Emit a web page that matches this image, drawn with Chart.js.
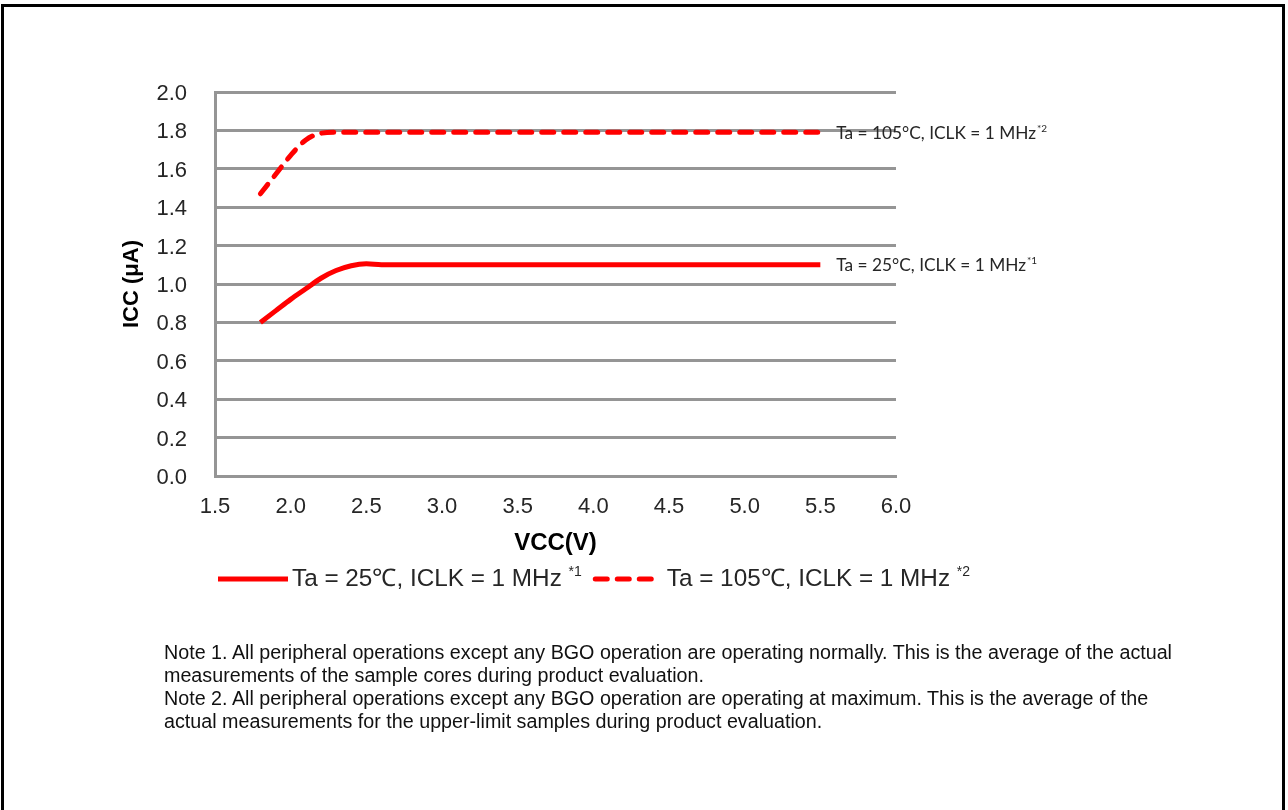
<!DOCTYPE html>
<html><head><meta charset="utf-8">
<script src="https://cdn.jsdelivr.net/npm/chart.js@4.4.0/dist/chart.umd.min.js"></script>
<style>
html,body{margin:0;padding:0;background:#fff;width:1288px;height:810px;overflow:hidden;}
#frame{position:absolute;left:1px;top:4px;width:1278px;height:900px;border:3px solid #000;border-bottom:none;}
#c{position:absolute;left:0;top:0;}
#notes{position:absolute;left:164px;top:641px;font-family:"Liberation Sans",Arial,sans-serif;font-size:20px;line-height:23px;color:#111;white-space:nowrap;transform-origin:0 0;}
</style></head><body>
<div id="frame"></div>
<canvas id="c" width="1288" height="810"></canvas>
<div id="notes"></div>
<script>
// ---- data ----
const vcc    = [1.8, 1.9, 2.0, 2.1, 2.2, 2.3, 2.4, 2.5, 2.6, 3.0, 3.5, 4.0, 4.5, 5.0, 5.5];
const icc25  = [0.80, 0.86, 0.92, 0.975, 1.03, 1.07, 1.095, 1.105, 1.10, 1.10, 1.10, 1.10, 1.10, 1.10, 1.10];
const icc105 = [1.47, 1.57, 1.67, 1.75, 1.785, 1.79, 1.79, 1.79, 1.79, 1.79, 1.79, 1.79, 1.79, 1.79, 1.79];
const seriesNames = ["Ta = 25\u2103, ICLK = 1 MHz", "Ta = 105\u2103, ICLK = 1 MHz"];
const seriesMarks = ["*1", "*2"];
const endLabels   = ["Ta = 25\u00B0C, ICLK = 1 MHz", "Ta = 105\u00B0C, ICLK = 1 MHz"];
const xTicks = [1.5, 2.0, 2.5, 3.0, 3.5, 4.0, 4.5, 5.0, 5.5, 6.0];
const yTicks = [0.0, 0.2, 0.4, 0.6, 0.8, 1.0, 1.2, 1.4, 1.6, 1.8, 2.0];
const xTitle = "VCC(V)";
const yTitle = "ICC (\u03BCA)";
const notes = [
  "Note 1. All peripheral operations except any BGO operation are operating normally. This is the average of the actual",
  "measurements of the sample cores during product evaluation.",
  "Note 2. All peripheral operations except any BGO operation are operating at maximum. This is the average of the",
  "actual measurements for the upper-limit samples during product evaluation."
];

// ---- styles ----
const RED = '#ff0000';
const GRID = '#959595';
const TXT = '#262626';
const FONT = '"Liberation Sans", Arial, sans-serif';
const dashPattern = [12, 10];

const endLabelPlugin = {
  id: 'endLabels',
  afterDatasetsDraw(chart) {
    const ctx = chart.ctx;
    ctx.save();
    chart.data.datasets.forEach((ds, i) => {
      const meta = chart.getDatasetMeta(i);
      const pt = meta.data[meta.data.length - 1];
      let x = pt.x + 16, y = pt.y + 1;
      ctx.fillStyle = TXT;
      ctx.textBaseline = 'middle';
      ctx.textAlign = 'left';
      ctx.font = '17.3px Lato, "Open Sans", sans-serif';
      ctx.fillText(endLabels[i], x, y);
      x += ctx.measureText(endLabels[i]).width + 1;
      ctx.font = '10px Lato, "Open Sans", sans-serif';
      ctx.fillText(seriesMarks[i], x, y - 5);
    });
    ctx.restore();
  }
};

const legendPlugin = {
  id: 'customLegend',
  afterDraw(chart) {
    const ctx = chart.ctx;
    ctx.save();
    let x = 218;
    const y = 579;
    chart.data.datasets.forEach((ds, i) => {
      ctx.strokeStyle = ds.borderColor;
      ctx.lineWidth = 5;
      ctx.lineCap = ds.borderDash ? 'round' : 'butt';
      ctx.setLineDash(ds.borderDash || []);
      const len = ds.borderDash ? 62 : 70;
      ctx.beginPath();
      ctx.moveTo(x + (ds.borderDash ? 2.5 : 0), y);
      ctx.lineTo(x + len, y);
      ctx.stroke();
      ctx.setLineDash([]);
      x += len + (ds.borderDash ? 12 : 4);
      ctx.fillStyle = TXT;
      ctx.textBaseline = 'middle';
      ctx.textAlign = 'left';
      ctx.font = '24.3px ' + FONT;
      ctx.fillText(ds.label, x, y);
      x += ctx.measureText(ds.label + ' ').width;
      ctx.font = '14px ' + FONT;
      ctx.fillText(seriesMarks[i], x, y - 7);
      x += ctx.measureText(seriesMarks[i]).width + 11;
    });
    ctx.restore();
  }
};

const ctx = document.getElementById('c').getContext('2d');
new Chart(ctx, {
  type: 'line',
  data: {
    datasets: [
      {
        label: seriesNames[0],
        data: vcc.map((v, i) => ({x: v, y: icc25[i]})),
        borderColor: RED, borderWidth: 5, pointRadius: 0,
        cubicInterpolationMode: 'monotone', fill: false,
        borderCapStyle: 'butt', borderJoinStyle: 'round'
      },
      {
        label: seriesNames[1],
        data: vcc.map((v, i) => ({x: v, y: icc105[i]})),
        borderColor: RED, borderWidth: 5, pointRadius: 0,
        borderDash: dashPattern,
        cubicInterpolationMode: 'monotone', fill: false,
        borderCapStyle: 'round', borderJoinStyle: 'round'
      }
    ]
  },
  options: {
    responsive: false,
    devicePixelRatio: 1,
    animation: false,
    layout: {padding: {left: 110, top: 92, right: 392, bottom: 252}},
    plugins: {legend: {display: false}, tooltip: {enabled: false}},
    scales: {
      x: {
        type: 'linear', min: xTicks[0], max: xTicks[xTicks.length - 1],
        afterBuildTicks: s => { s.ticks = xTicks.map(v => ({value: v})); },
        ticks: {font: {family: FONT, size: 22}, color: TXT, padding: 18, maxRotation: 0, autoSkip: false,
                callback: v => Number(v).toFixed(1)},
        grid: {display: false, drawTicks: false},
        border: {display: true, color: GRID, width: 3},
        title: {display: true, text: xTitle, font: {family: FONT, size: 24, weight: 'bold'}, color: '#000', padding: 0},
        afterFit: s => { s.height = 82; }
      },
      y: {
        type: 'linear', min: yTicks[0], max: yTicks[yTicks.length - 1],
        afterBuildTicks: s => { s.ticks = yTicks.map(v => ({value: v})); },
        ticks: {font: {family: FONT, size: 22}, color: TXT, padding: 28, autoSkip: false, labelOffset: 2,
                callback: v => Number(v).toFixed(1)},
        grid: {color: GRID, lineWidth: 3, drawTicks: false},
        border: {display: true, color: GRID, width: 3},
        title: {display: true, text: yTitle, font: {family: FONT, size: 22, weight: 'bold'}, color: '#000', padding: {top: 9, bottom: 0}},
        afterFit: s => { s.width = 105; }
      }
    }
  },
  plugins: [endLabelPlugin, legendPlugin]
});

// notes
const notesEl = document.getElementById('notes');
notes.forEach(t => { const d = document.createElement('div'); d.textContent = t; notesEl.appendChild(d); });
const w = notesEl.firstChild.getBoundingClientRect().width;
notesEl.style.transform = 'scaleX(' + (1008 / w) + ')';
</script>
</body></html>
